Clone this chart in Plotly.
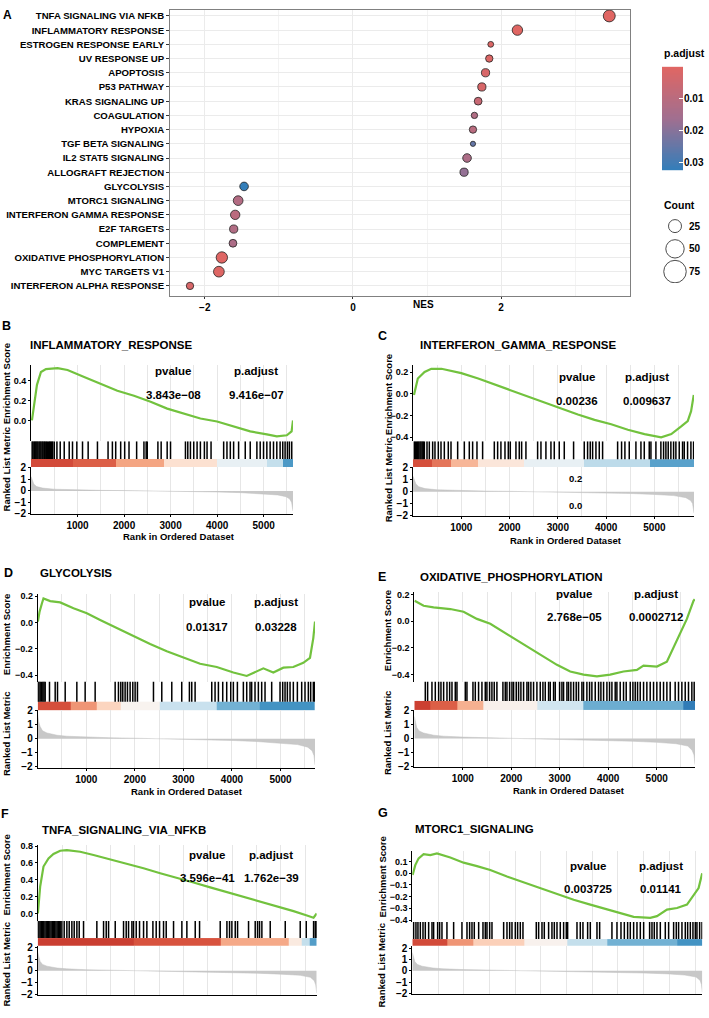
import numpy as np
import plotly.graph_objects as go

# ======================= DATA =======================
# ---- Panel A: GSEA dot plot ----
A_TERMS = ["TNFA SIGNALING VIA NFKB", "INFLAMMATORY RESPONSE", "ESTROGEN RESPONSE EARLY",
           "UV RESPONSE UP", "APOPTOSIS", "P53 PATHWAY", "KRAS SIGNALING UP", "COAGULATION",
           "HYPOXIA", "TGF BETA SIGNALING", "IL2 STAT5 SIGNALING", "ALLOGRAFT REJECTION",
           "GLYCOLYSIS", "MTORC1 SIGNALING", "INTERFERON GAMMA RESPONSE", "E2F TARGETS",
           "COMPLEMENT", "OXIDATIVE PHOSPHORYLATION", "MYC TARGETS V1", "INTERFERON ALPHA RESPONSE"]
A_NES = [3.46, 2.22, 1.86, 1.84, 1.79, 1.74, 1.69, 1.64, 1.62, 1.62, 1.54, 1.50,
         -1.47, -1.55, -1.59, -1.61, -1.62, -1.77, -1.81, -2.20]
A_PADJ = [0.0, 0.0, 0.001, 0.001, 0.002, 0.002, 0.006, 0.012, 0.010, 0.025, 0.013, 0.018,
          0.03228, 0.01141, 0.009637, 0.012, 0.013, 0.0002712, 0.0004, 0.002]
A_COUNT = [21, 16, 5, 8, 10, 10, 9, 6, 8, 4, 11, 10, 11, 14, 13, 10, 9, 19, 17, 8]
COUNT_LEGEND = [25, 50, 75]
PADJ_TICKS = [0.01, 0.02, 0.03]
RANK_TICKS = [1000, 2000, 3000, 4000, 5000]

# ---- Panel B: INFLAMMATORY_RESPONSE ----
B_TITLE = "INFLAMMATORY_RESPONSE"; B_P = "3.843e\u221208"; B_PADJ = "9.416e\u221207"
B_ES_RANK = [20, 71, 128, 214, 321, 571, 785, 1142, 1499, 1856, 2213, 2570, 2927, 3283, 3640,
             3998, 4353, 4711, 5068, 5282, 5497, 5600, 5630]
B_ES = [0.0, 0.19, 0.36, 0.49, 0.52, 0.53, 0.51, 0.44, 0.37, 0.30, 0.25, 0.19, 0.12, 0.07, 0.02,
        -0.01, -0.06, -0.11, -0.14, -0.16, -0.15, -0.11, 0.0]
B_HITS = [25, 45, 70, 90, 110, 130, 150, 175, 195, 215, 240, 260, 285, 305, 330, 350, 380, 400,
          420, 445, 465, 500, 557, 628, 714, 821, 892, 985, 1107, 1228, 1428, 1656, 1749, 1820,
          1927, 2013, 2106, 2270, 2427, 2475, 2498, 2727, 2797, 2926, 2998, 3319, 3369, 3426,
          3497, 3569, 3640, 3726, 3783, 3869, 4140, 4211, 4283, 4354, 4461, 4604, 4711, 4854,
          4925, 4997, 5068, 5139, 5211, 5282, 5353, 5410, 5460, 5510, 5553, 5603]
B_BAND_EDGES = [0, 900, 1820, 2855, 4000, 5070, 5420, 5630]
B_BAND_VALS = [0.8, 0.72, 0.5, 0.2, -0.1, -0.3, -0.72]
B_METRIC_RANK = [0, 25, 60, 120, 250, 500, 1000, 1500, 2000, 2500, 3000, 3500, 4000, 4500,
                 5000, 5300, 5480, 5560, 5600, 5630]
B_METRIC = [1.25, 0.95, 0.6, 0.38, 0.25, 0.15, 0.08, 0.05, 0.03, 0.01, -0.02, -0.05, -0.09,
            -0.15, -0.25, -0.35, -0.5, -0.7, -1.0, -1.75]

# ---- Panel C: INTERFERON_GAMMA_RESPONSE ----
C_TITLE = "INTERFERON_GAMMA_RESPONSE"; C_P = "0.00236"; C_PADJ = "0.009637"
C_ES_RANK = [20, 100, 240, 380, 590, 790, 1000, 1350, 1690, 2035, 2380, 2725, 3070, 3415, 3760,
             4105, 4450, 4795, 5140, 5350, 5555, 5690, 5760, 5815]
C_ES = [-0.01, 0.14, 0.20, 0.23, 0.23, 0.21, 0.19, 0.14, 0.085, 0.03, -0.027, -0.082, -0.14,
        -0.19, -0.24, -0.28, -0.33, -0.37, -0.40, -0.37, -0.30, -0.25, -0.16, -0.01]
C_HITS = [28, 50, 75, 97, 120, 145, 166, 190, 212, 235, 290, 338, 407, 455, 524, 580, 649, 731,
          787, 925, 1063, 1166, 1235, 1325, 1442, 1684, 1753, 1821, 1905, 1974, 2015, 2132, 2201,
          2250, 2339, 2581, 2650, 2753, 2857, 2926, 3029, 3133, 3326, 3547, 3616, 3671, 3720,
          3789, 3858, 3927, 4238, 4320, 4389, 4479, 4617, 4721, 4790, 4893, 4928, 5031, 5134,
          5190, 5238, 5286, 5341, 5397, 5445, 5514, 5583, 5618, 5687, 5756, 5811]
C_BAND_EDGES = [0, 400, 790, 1340, 2300, 3550, 4900, 5820]
C_BAND_VALS = [0.78, 0.65, 0.42, 0.15, -0.1, -0.33, -0.68]
C_METRIC_RANK = [0, 25, 60, 120, 250, 500, 1000, 1500, 2000, 2500, 3000, 3500, 4000, 4500,
                 5000, 5400, 5650, 5750, 5790, 5820]
C_METRIC = [1.3, 1.0, 0.65, 0.42, 0.26, 0.16, 0.08, 0.05, 0.03, 0.0, -0.03, -0.06, -0.1, -0.15,
            -0.23, -0.33, -0.5, -0.75, -1.0, -1.8]

# ---- Panel D: GLYCOLYSIS ----
D_TITLE = "GLYCOLYSIS"; D_P = "0.01317"; D_PADJ = "0.03228"
D_ES_RANK = [4, 37, 86, 119, 257, 463, 737, 1012, 1286, 1630, 1971, 2315, 2658, 3000, 3344,
             3687, 4029, 4304, 4646, 4852, 5058, 5263, 5469, 5607, 5675, 5710]
D_ES = [0.0075, 0.08, 0.145, 0.183, 0.163, 0.153, 0.108, 0.07, 0.02, -0.043, -0.105, -0.163,
        -0.218, -0.268, -0.313, -0.338, -0.38, -0.406, -0.348, -0.38, -0.343, -0.338, -0.306,
        -0.268, -0.118, 0.0075]
D_HITS = [3, 25, 51, 80, 106, 130, 154, 243, 360, 408, 566, 806, 977, 1183, 1595, 1663, 1711,
          1752, 1800, 1848, 1903, 1958, 2006, 2054, 2384, 2555, 2761, 2966, 3124, 3172, 3241,
          3584, 3652, 3721, 3810, 3892, 3975, 4029, 4112, 4235, 4304, 4372, 4406, 4475, 4544,
          4612, 4681, 4818, 4990, 5045, 5093, 5141, 5196, 5264, 5347, 5436, 5504, 5573, 5621,
          5676, 5705]
D_BAND_EDGES = [0, 670, 1220, 1700, 2520, 3690, 4580, 5710]
D_BAND_VALS = [0.78, 0.55, 0.28, 0.04, -0.28, -0.6, -0.75]
D_METRIC_RANK = [0, 20, 50, 100, 190, 400, 600, 1000, 1500, 2000, 2500, 3000, 3500, 4000, 4500,
                 5000, 5350, 5560, 5650, 5690, 5710]
D_METRIC = [1.7, 1.2, 0.85, 0.55, 0.4, 0.24, 0.17, 0.1, 0.06, 0.03, 0.0, -0.04, -0.08, -0.13,
            -0.2, -0.3, -0.42, -0.6, -0.85, -1.2, -1.85]

# ---- Panel E: OXIDATIVE_PHOSPHORYLATION ----
E_TITLE = "OXIDATIVE_PHOSPHORYLATION"; E_P = "2.768e\u221205"; E_PADJ = "0.0002712"
E_ES_RANK = [6, 192, 398, 742, 1016, 1292, 1567, 1842, 2117, 2392, 2666, 2942, 3216, 3491, 3767,
             4041, 4315, 4592, 4728, 5004, 5210, 5347, 5485, 5623, 5759, 5785]
E_ES = [0.153, 0.116, 0.103, 0.091, 0.071, 0.017, -0.02, -0.082, -0.143, -0.205, -0.267, -0.328,
        -0.378, -0.402, -0.415, -0.402, -0.378, -0.366, -0.334, -0.341, -0.304, -0.193, -0.082,
        0.017, 0.153, 0.165]
E_HITS = [227, 275, 364, 433, 502, 550, 605, 674, 729, 777, 845, 880, 1052, 1086, 1210, 1258,
          1326, 1395, 1464, 1498, 1553, 1601, 1649, 1704, 1828, 1876, 1911, 1966, 2014, 2048,
          2103, 2151, 2199, 2254, 2323, 2357, 2405, 2460, 2529, 2598, 2653, 2701, 2770, 2804,
          2873, 2907, 2997, 3045, 3079, 3148, 3182, 3230, 3285, 3340, 3388, 3457, 3491, 3560,
          3615, 3663, 3732, 3801, 3849, 3904, 3973, 4027, 4076, 4144, 4179, 4247, 4316, 4371,
          4454, 4509, 4557, 4605, 4660, 4729, 4797, 4866, 4935, 5003, 5072, 5141, 5210, 5278,
          5381, 5450, 5519, 5588, 5656, 5725, 5773]
E_BAND_EDGES = [0, 330, 880, 1430, 2530, 3490, 5550, 5790]
E_BAND_VALS = [0.85, 0.72, 0.45, 0.06, -0.25, -0.62, -0.88]
E_METRIC_RANK = [0, 20, 50, 100, 190, 400, 600, 1000, 1500, 2000, 2500, 3000, 3500, 4000, 4500,
                 5000, 5400, 5640, 5730, 5770, 5790]
E_METRIC = [1.6, 1.15, 0.8, 0.55, 0.4, 0.24, 0.17, 0.1, 0.06, 0.03, 0.0, -0.04, -0.08, -0.13,
            -0.2, -0.28, -0.38, -0.55, -0.85, -1.2, -1.9]

# ---- Panel F: TNFA_SIGNALING_VIA_NFKB ----
F_TITLE = "TNFA_SIGNALING_VIA_NFKB"; F_P = "3.596e\u221241"; F_PADJ = "1.762e\u221239"
F_ES_RANK = [4, 51, 119, 222, 325, 463, 600, 874, 1148, 1492, 1835, 2177, 2520, 2864, 3206,
             3549, 3893, 4235, 4578, 4922, 5263, 5539, 5675, 5740]
F_ES = [0.0, 0.32, 0.557, 0.654, 0.706, 0.745, 0.753, 0.733, 0.694, 0.643, 0.588, 0.537, 0.478,
        0.427, 0.368, 0.31, 0.255, 0.196, 0.145, 0.086, 0.027, -0.024, -0.051, 0.0]
F_HITS = [3, 25, 50, 75, 100, 125, 150, 175, 200, 225, 250, 275, 300, 325, 350, 375, 400, 425,
          450, 463, 497, 545, 600, 648, 703, 751, 806, 854, 943, 1217, 1355, 1410, 1458, 1595,
          1766, 1821, 1869, 1938, 1972, 2027, 2095, 2178, 2246, 2370, 2438, 2507, 2589, 2644,
          2795, 2966, 3069, 3241, 3330, 3755, 3893, 3947, 3995, 4064, 4112, 4338, 4475, 4523,
          4564, 4612, 4784, 5093, 5401, 5525, 5676, 5710, 5738]
F_BAND_EDGES = [0, 1970, 3755, 5160, 5430, 5600, 5740]
F_BAND_VALS = [0.86, 0.76, 0.48, 0.12, -0.3, -0.7]
F_METRIC_RANK = [0, 20, 50, 100, 190, 400, 600, 1000, 1500, 2000, 2500, 3000, 3500, 4000, 4500,
                 5000, 5400, 5610, 5690, 5720, 5740]
F_METRIC = [1.6, 1.15, 0.8, 0.55, 0.4, 0.24, 0.17, 0.1, 0.06, 0.03, 0.0, -0.04, -0.08, -0.13,
            -0.2, -0.28, -0.38, -0.55, -0.85, -1.2, -1.9]

# ---- Panel G: MTORC1_SIGNALING ----
G_TITLE = "MTORC1_SIGNALING"; G_P = "0.003725"; G_PADJ = "0.01141"
G_ES_RANK = [6, 58, 123, 220, 350, 480, 739, 998, 1258, 1517, 1842, 2166, 2490, 2815, 3139, 3463,
             3788, 4047, 4306, 4630, 4760, 4955, 5150, 5344, 5473, 5570, 5640]
G_ES = [-0.014, 0.07, 0.128, 0.164, 0.156, 0.17, 0.136, 0.091, 0.062, 0.028, -0.028, -0.079,
        -0.127, -0.175, -0.226, -0.268, -0.311, -0.344, -0.373, -0.381, -0.367, -0.311, -0.297,
        -0.268, -0.184, -0.127, 0.0]
G_HITS = [26, 71, 110, 156, 208, 253, 318, 383, 415, 493, 532, 577, 674, 804, 966, 1064, 1115,
          1161, 1206, 1291, 1375, 1420, 1453, 1505, 1550, 1777, 1842, 1894, 1939, 2004, 2049,
          2101, 2153, 2412, 2458, 2523, 2568, 2652, 2717, 2763, 2815, 2879, 2944, 2996, 3022,
          3204, 3268, 3320, 3411, 3463, 3593, 3645, 3884, 3982, 4060, 4125, 4189, 4241, 4306,
          4371, 4436, 4501, 4617, 4663, 4708, 4760, 4825, 4922, 4987, 5084, 5136, 5181, 5246,
          5311, 5357, 5409, 5460, 5506, 5538, 5590, 5636]
G_BAND_EDGES = [0, 675, 1190, 2170, 3010, 3790, 5150, 5642]
G_BAND_VALS = [0.8, 0.55, 0.3, 0.05, -0.3, -0.6, -0.75]
G_METRIC_RANK = [0, 20, 50, 100, 190, 400, 600, 1000, 1500, 2000, 2500, 3000, 3500, 4000, 4500,
                 5000, 5300, 5520, 5600, 5625, 5642]
G_METRIC = [1.6, 1.15, 0.8, 0.55, 0.4, 0.24, 0.17, 0.1, 0.06, 0.03, 0.0, -0.04, -0.08, -0.13,
            -0.2, -0.28, -0.38, -0.55, -0.85, -1.2, -1.9]

# ======================= STYLE / GEOMETRY =======================
W, H = 709, 1018
FONT = "Liberation Sans, Arial, Helvetica, sans-serif"
GREEN = "#72C23E"
GRID = "#E6E6E6"
PADJ_MAX = 0.0325
PADJ_SCALE = [[0, "#E06663"], [0.5, "#A06F90"], [1, "#327EBA"]]
BAND_SCALE = [[0, "#2166AC"], [0.125, "#4393C3"], [0.25, "#92C5DE"], [0.375, "#D1E5F0"],
              [0.5, "#F7F7F7"], [0.625, "#FDDBC7"], [0.75, "#F4A582"], [0.875, "#D9553F"],
              [1, "#B8201F"]]


def px(x):
    return x / W


def py(y):
    return 1 - y / H


def bold(size, family=FONT):
    return dict(family=family, size=size, color="black", weight="bold")


def size_of(c):
    return 2.6 * np.sqrt(c)


fig = go.Figure()
layout = dict(width=W, height=H, margin=dict(l=0, r=0, t=0, b=0, pad=0),
              paper_bgcolor="white", plot_bgcolor="white", showlegend=False,
              font=dict(family=FONT, color="black"), hovermode=False)
ann = []


def text(t, x, y, size=11.5, xanchor="center", angle=0):
    ann.append(dict(text=t, x=px(x), y=py(y), xref="paper", yref="paper", xanchor=xanchor,
                    yanchor="middle", showarrow=False, textangle=angle, font=bold(size)))


# ---------------- Panel A ----------------
fig.add_trace(go.Scatter(
    x=A_NES, y=A_TERMS, mode="markers", xaxis="x", yaxis="y",
    marker=dict(size=[size_of(c) for c in A_COUNT], color=A_PADJ, colorscale=PADJ_SCALE,
                cmin=0, cmax=PADJ_MAX, line=dict(color="#222", width=0.8), opacity=1)))
n = len(A_TERMS)
layout["xaxis"] = dict(domain=[px(170), px(630)], range=[-2.47, 3.74], anchor="y",
                       tick0=0, dtick=2, showgrid=True, gridcolor="#EBEBEB",
                       minor=dict(dtick=1, tick0=0, showgrid=True, gridcolor="#F3F3F3", ticks=""),
                       zeroline=False, showline=True, linecolor="#808080", mirror=True,
                       ticks="outside", ticklen=2, tickcolor="#333", tickfont=bold(10))
layout["yaxis"] = dict(domain=[py(293), py(4)], anchor="x", type="category",
                       categoryorder="array", categoryarray=A_TERMS,
                       range=[n - 1 + 0.7, -0.42], showgrid=True, gridcolor="#EBEBEB",
                       zeroline=False, showline=True, linecolor="#808080", mirror=True,
                       ticks="outside", ticklen=3, tickcolor="#333",
                       tickfont=bold(9.6))
text("A", 7, 9, 12)
text("NES", 424, 302, 10)

# p.adjust colour bar (reversed, low p on top)
ramp = np.linspace(0, PADJ_MAX, 120)
fig.add_trace(go.Heatmap(z=[[v] for v in ramp], y=ramp, x=[0], colorscale=PADJ_SCALE,
                         zmin=0, zmax=PADJ_MAX, showscale=False, xaxis="x2", yaxis="y2"))
layout["xaxis2"] = dict(domain=[px(662), px(683)], range=[-0.5, 0.5], visible=False, anchor="y2")
layout["yaxis2"] = dict(domain=[py(166), py(60)], range=[PADJ_MAX, -0.0006], anchor="x2",
                        side="right", tickvals=PADJ_TICKS, ticktext=[str(v) for v in PADJ_TICKS],
                        ticks="inside", ticklen=4, tickcolor="white", showgrid=False,
                        zeroline=False, showline=False, tickfont=bold(10))
text("p.adjust", 662, 48, 10.5, xanchor="left")

# Count size legend
fig.add_trace(go.Scatter(x=[0] * len(COUNT_LEGEND), y=[str(c) for c in COUNT_LEGEND],
                         mode="markers", xaxis="x3", yaxis="y3",
                         marker=dict(size=[size_of(c) for c in COUNT_LEGEND], color="white",
                                     line=dict(color="black", width=1))))
layout["xaxis3"] = dict(domain=[px(662), px(688)], range=[-1, 1], visible=False, anchor="y3")
layout["yaxis3"] = dict(domain=[py(280), py(211)], anchor="x3", type="category",
                        range=[2.5, -0.5], side="right", showgrid=False, zeroline=False,
                        showline=False, ticks="", tickfont=bold(10))
text("Count", 662, 201, 10.5, xanchor="left")

# ---------------- GSEA panels ----------------
PANELS = [
    dict(letter="B", title=B_TITLE, p=B_P, padj=B_PADJ, es_rank=B_ES_RANK, es=B_ES, hits=B_HITS,
         band_edges=B_BAND_EDGES, band_vals=B_BAND_VALS, m_rank=B_METRIC_RANK, metric=B_METRIC,
         g=dict(x0=31, x1=293, xmax=5630, es=(363, 440), es_range=(-0.21, 0.56),
                es_ticks=[0.0, 0.2, 0.4], mid=(440, 466), band=0.31, rk=(466, 514),
                rk_range=(-2.05, 2.09), letter_xy=(6, 323), title_xy=(28, 343),
                stat_x=(173, 256), stat_y=(369, 393), ytitle_x=6, ytitle_single=426,
                xlab=True, xtitle_xy=(179, 536))),
    dict(letter="C", title=C_TITLE, p=C_P, padj=C_PADJ, es_rank=C_ES_RANK, es=C_ES, hits=C_HITS,
         band_edges=C_BAND_EDGES, band_vals=C_BAND_VALS, m_rank=C_METRIC_RANK, metric=C_METRIC,
         g=dict(x0=413, x1=694, xmax=5820, es=(363, 440), es_range=(-0.436, 0.264),
                es_ticks=[-0.4, -0.2, 0.0, 0.2], mid=(440, 466), band=0.30, rk=(466, 516),
                rk_range=(-2.08, 2.08), letter_xy=(382, 334), title_xy=(418, 343),
                stat_x=(577, 647), stat_y=(375, 399), ytitle_x=388, ytitle_single=437,
                xlab=True, xtitle_xy=(566, 540),
                extra=[("0.2", 575, 478), ("0.0", 575, 505)])),
    dict(letter="D", title=D_TITLE, p=D_P, padj=D_PADJ, es_rank=D_ES_RANK, es=D_ES, hits=D_HITS,
         band_edges=D_BAND_EDGES, band_vals=D_BAND_VALS, m_rank=D_METRIC_RANK, metric=D_METRIC,
         g=dict(x0=37.7, x1=315, xmax=5710, es=(594, 683), es_range=(-0.449, 0.22),
                es_ticks=[-0.4, -0.2, 0.0, 0.2], mid=(683, 712), band=0.30, rk=(712, 770),
                rk_range=(-2.05, 2.0), letter_xy=(8, 573), title_xy=(38, 573),
                stat_x=(207, 276), stat_y=(603, 628), ytitle_x=6, ytitle_es=636, ytitle_rk=736,
                xlab=True, xtitle_xy=(187, 794))),
    dict(letter="E", title=E_TITLE, p=E_P, padj=E_PADJ, es_rank=E_ES_RANK, es=E_ES, hits=E_HITS,
         band_edges=E_BAND_EDGES, band_vals=E_BAND_VALS, m_rank=E_METRIC_RANK, metric=E_METRIC,
         g=dict(x0=414.3, x1=695, xmax=5790, es=(592, 683), es_range=(-0.454, 0.222),
                es_ticks=[-0.4, -0.2, 0.0, 0.2], mid=(683, 711.7), band=0.32, rk=(711.7, 769.3),
                rk_range=(-2.07, 2.07), letter_xy=(382, 577), title_xy=(418, 577),
                stat_x=(574, 656), stat_y=(594, 618), ytitle_x=387, ytitle_es=632, ytitle_rk=735,
                xlab=True, xtitle_xy=(569, 793))),
    dict(letter="F", title=F_TITLE, p=F_P, padj=F_PADJ, es_rank=F_ES_RANK, es=F_ES, hits=F_HITS,
         band_edges=F_BAND_EDGES, band_vals=F_BAND_VALS, m_rank=F_METRIC_RANK, metric=F_METRIC,
         g=dict(x0=37.7, x1=316.7, xmax=5740, es=(848, 925), es_range=(-0.09, 0.815),
                es_ticks=[0.0, 0.2, 0.4, 0.6, 0.8], mid=(925, 950), band=0.31, rk=(950, 999.5),
                rk_range=(-2.04, 2.15), letter_xy=(5, 817), title_xy=(40, 833),
                stat_x=(207, 271), stat_y=(858, 882), ytitle_x=7, ytitle_es=879, ytitle_rk=969,
                xlab=False)),
    dict(letter="G", title=G_TITLE, p=G_P, padj=G_PADJ, es_rank=G_ES_RANK, es=G_ES, hits=G_HITS,
         band_edges=G_BAND_EDGES, band_vals=G_BAND_VALS, m_rank=G_METRIC_RANK, metric=G_METRIC,
         g=dict(x0=412.3, x1=702.3, xmax=5642, es=(854, 926), es_range=(-0.417, 0.193),
                es_ticks=[-0.4, -0.3, -0.2, -0.1, 0.0, 0.1], mid=(926, 950), band=0.28,
                rk=(950, 998.5), rk_range=(-2.02, 2.2), letter_xy=(383, 816), title_xy=(413, 832),
                stat_x=(588, 661), stat_y=(869, 893), ytitle_x=382, ytitle_es=881, ytitle_rk=970,
                xlab=False)),
]

ax = 4
for P in PANELS:
    g = P["g"]
    a_es, a_mid, a_rk = ax, ax + 1, ax + 2
    ax += 3
    xr = [0, g["xmax"]]
    xdom = [px(g["x0"]), px(g["x1"])]

    # running enrichment score
    fig.add_trace(go.Scatter(x=P["es_rank"], y=P["es"], mode="lines",
                             line=dict(color=GREEN, width=2.2),
                             xaxis=f"x{a_es}", yaxis=f"y{a_es}"))
    layout[f"xaxis{a_es}"] = dict(domain=xdom, range=xr, anchor=f"y{a_es}", tick0=0, dtick=500,
                                  showticklabels=False, ticks="", showline=False, zeroline=False,
                                  showgrid=True, gridcolor=GRID)
    layout[f"yaxis{a_es}"] = dict(domain=[py(g["es"][1]), py(g["es"][0])], range=list(g["es_range"]),
                                  anchor=f"x{a_es}", tickvals=g["es_ticks"], tickformat=".1f",
                                  showline=True, linecolor="black", linewidth=1, ticks="outside",
                                  ticklen=2, tickcolor="black", showgrid=False, zeroline=False,
                                  tickfont=bold(9))

    # hits + colour band
    hx, hy = [], []
    for h in P["hits"]:
        hx += [h, h, None]
        hy += [g["band"], 1, None]
    fig.add_trace(go.Heatmap(x=P["band_edges"], y=[0, g["band"]], z=[P["band_vals"]],
                             colorscale=BAND_SCALE, zmin=-1, zmax=1, showscale=False,
                             xaxis=f"x{a_mid}", yaxis=f"y{a_mid}"))
    fig.add_trace(go.Scatter(x=hx, y=hy, mode="lines", line=dict(color="black", width=1.5),
                             xaxis=f"x{a_mid}", yaxis=f"y{a_mid}"))
    layout[f"xaxis{a_mid}"] = dict(domain=xdom, range=xr, anchor=f"y{a_mid}", visible=False)
    layout[f"yaxis{a_mid}"] = dict(domain=[py(g["mid"][1]), py(g["mid"][0])], range=[0, 1],
                                   anchor=f"x{a_mid}", visible=False)

    # ranked list metric
    fig.add_trace(go.Scatter(x=P["m_rank"], y=P["metric"], mode="lines", fill="tozeroy",
                             fillcolor="#C8C8C8", line=dict(color="#C0C0C0", width=0.5),
                             xaxis=f"x{a_rk}", yaxis=f"y{a_rk}"))
    layout[f"xaxis{a_rk}"] = dict(domain=xdom, range=xr, anchor=f"y{a_rk}",
                                  tickvals=RANK_TICKS, showticklabels=g["xlab"],
                                  ticks="outside" if g["xlab"] else "", ticklen=2,
                                  tickcolor="black", showline=True, linecolor="black",
                                  linewidth=1, zeroline=False, showgrid=True, gridcolor=GRID,
                                  minor=dict(tick0=0, dtick=500, showgrid=True, gridcolor=GRID,
                                             ticks=""),
                                  tickfont=bold(10))
    layout[f"yaxis{a_rk}"] = dict(domain=[py(g["rk"][1]), py(g["rk"][0])], range=list(g["rk_range"]),
                                  anchor=f"x{a_rk}", tickvals=[-2, -1, 0, 1, 2], showline=True,
                                  linecolor="black", linewidth=1, ticks="outside", ticklen=2,
                                  tickcolor="black", showgrid=False, zeroline=False,
                                  tickfont=bold(10))

    # texts
    text(P["letter"], *g["letter_xy"], 12.5)
    text(P["title"], g["title_xy"][0], g["title_xy"][1], 11.5, xanchor="left")
    sx, sy = g["stat_x"], g["stat_y"]
    text("pvalue", sx[0], sy[0], 11.5)
    text("p.adjust", sx[1], sy[0], 11.5)
    text(P["p"], sx[0], sy[1], 11.5)
    text(P["padj"], sx[1], sy[1], 11.5)
    if "ytitle_single" in g:
        text("Ranked List Metric Enrichment Score", g["ytitle_x"], g["ytitle_single"], 9.5, angle=-90)
    else:
        text("Enrichment Score", g["ytitle_x"], g["ytitle_es"], 9.5, angle=-90)
        text("Ranked List Metric", g["ytitle_x"], g["ytitle_rk"], 9.5, angle=-90)
    if g.get("xtitle_xy"):
        text("Rank in Ordered Dataset", g["xtitle_xy"][0], g["xtitle_xy"][1], 9.5)
    for t, x, y in g.get("extra", []):
        text(t, x, y, 9.5)

for tr in fig.data:
    tr.hoverinfo = "skip"

layout["annotations"] = ann
fig.update_layout(**layout)
fig.write_html("out.html")
